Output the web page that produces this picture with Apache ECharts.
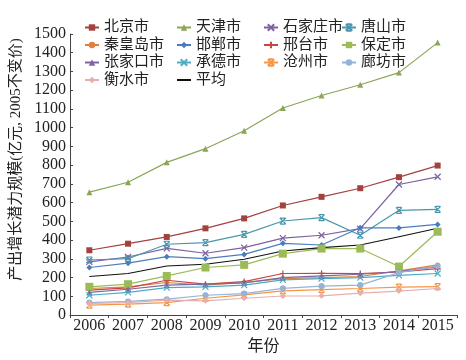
<!DOCTYPE html>
<html>
<head>
<meta charset="utf-8">
<script src="https://cdn.jsdelivr.net/npm/echarts@6/dist/echarts.min.js"></script>
<style>
html,body{margin:0;padding:0;background:#fff;}
#c{width:466px;height:360px;}
</style>
</head>
<body>
<div id="c"></div>
<script>
const years = ['2006','2007','2008','2009','2010','2011','2012','2013','2014','2015'];
const beijing     = [346, 381, 417, 463, 516, 585, 631, 677, 736, 798];
const tianjin     = [656, 709, 815, 888, 984, 1105, 1172, 1229, 1294, 1454];
const shijiazhuang= [284, 310, 356, 330, 360, 411, 426, 461, 697, 738];
const tangshan    = [294, 301, 378, 387, 431, 502, 520, 426, 559, 564];
const qinhuangdao = [142, 151, 174, 160, 174, 195, 200, 206, 236, 268];
const handan      = [254, 277, 312, 301, 324, 383, 374, 466, 465, 484];
const xingtai     = [133, 145, 186, 165, 179, 222, 223, 222, 230, 248];
const baoding     = [151, 165, 209, 254, 268, 328, 355, 355, 259, 445];
const zhangjiakou = [121, 138, 160, 165, 172, 200, 209, 218, 232, 259];
const chengde     = [106, 121, 147, 151, 160, 188, 195, 200, 212, 222];
const cangzhou    = [53, 59, 67, 90, 108, 129, 136, 142, 149, 152];
const langfang    = [67, 73, 85, 106, 115, 143, 155, 160, 227, 262];
const hengshui    = [62, 67, 80, 76, 90, 102, 103, 117, 128, 142];
const average     = [206, 222, 262, 271, 298, 342, 360, 374, 418, 463];

const FONT = '"Liberation Serif", "Times New Roman", "Noto Sans CJK SC", serif';
const X_PATH = 'path://M0,0 L10,10 M10,0 L0,10';
const PLUS_PATH = 'path://M5,0 L5,10 M0,5 L10,5';
const STAR_PATH = 'path://M0,0 L10,10 M10,0 L0,10 M1,0 L9,0 M1,10 L9,10';

function mk(name, data, color, symbol, size, stroke) {
  return {
    name: name, type: 'line', data: data,
    symbol: symbol, symbolSize: size, symbolKeepAspect: true,
    lineStyle: {color: color, width: 1.2},
    itemStyle: {color: color, borderColor: color, borderWidth: stroke ? 1.2 : 0},
    emphasis: {disabled: true},
    animation: false
  };
}

const series = [
  mk('北京市', beijing, '#A3413E', 'rect', 6),
  mk('天津市', tianjin, '#8AA656', 'triangle', 6),
  mk('石家庄市', shijiazhuang, '#7B62A0', X_PATH, 6, true),
  mk('唐山市', tangshan, '#4897AE', STAR_PATH, 6, true),
  mk('秦皇岛市', qinhuangdao, '#E0803A', 'circle', 5),
  mk('邯郸市', handan, '#4A7DC0', 'diamond', 6),
  mk('邢台市', xingtai, '#C8463F', PLUS_PATH, 6, true),
  mk('保定市', baoding, '#9BBB59', 'rect', 8),
  mk('张家口市', zhangjiakou, '#8064A2', 'triangle', 6),
  mk('承德市', chengde, '#4BACC6', X_PATH, 6, true),
  mk('沧州市', cangzhou, '#F79646', STAR_PATH, 6, true),
  mk('廊坊市', langfang, '#95B3D7', 'circle', 6),
  mk('衡水市', hengshui, '#E6AFAE', 'diamond', 6),
  {
    name: '平均', type: 'line', data: average, symbol: 'none',
    lineStyle: {color: '#111', width: 1.1}, itemStyle: {color: '#111'},
    emphasis: {disabled: true}, animation: false
  }
];

function lg(left, names) {
  return {
    orient: 'vertical', left: left, top: 14, data: names,
    itemWidth: 14, itemHeight: 8, itemGap: 0.5,
    textStyle: {fontFamily: FONT, fontSize: 15, lineHeight: 17, color: '#222'},
    selectedMode: false
  };
}

const chart = echarts.init(document.getElementById('c'), null, {renderer: 'canvas'});
chart.setOption({
  animation: false,
  backgroundColor: '#fff',
  textStyle: {fontFamily: FONT},
  grid: {left: 70, right: 9, top: 34, bottom: 44, containLabel: false},
  legend: [
    lg(79, ['北京市', '秦皇岛市', '张家口市', '衡水市']),
    lg(171, ['天津市', '邯郸市', '承德市', {name: '平均', itemStyle: {opacity: 0}}]),
    lg(258, ['石家庄市', '邢台市', '沧州市']),
    lg(336, ['唐山市', '保定市', '廊坊市'])
  ],
  xAxis: {
    type: 'category', data: years, boundaryGap: true,
    name: '年份', nameLocation: 'middle', nameGap: 22,
    nameTextStyle: {fontFamily: FONT, fontSize: 16, color: '#222', verticalAlign: 'top'},
    axisLine: {lineStyle: {color: '#444', width: 1}},
    axisTick: {show: true, length: 3, inside: false, lineStyle: {color: '#444'}},
    axisLabel: {fontFamily: FONT, fontSize: 16, color: '#222', margin: 3, interval: 0},
    splitLine: {show: false}
  },
  yAxis: {
    type: 'value', min: 0, max: 1500, interval: 100,
    name: '产出增长潜力规模(亿元, 2005不变价)', nameLocation: 'middle', nameGap: 46,
    nameTextStyle: {fontFamily: FONT, fontSize: 15, color: '#222', padding: [0, 0, 0, 30]},
    axisLine: {show: true, lineStyle: {color: '#444', width: 1}},
    axisTick: {show: true, length: 3, inside: true, lineStyle: {color: '#444'}},
    axisLabel: {fontFamily: FONT, fontSize: 16, color: '#222', margin: 4, formatter: function (v) { return String(v); }},
    splitLine: {show: false}
  },
  series: series
});
</script>
</body>
</html>
